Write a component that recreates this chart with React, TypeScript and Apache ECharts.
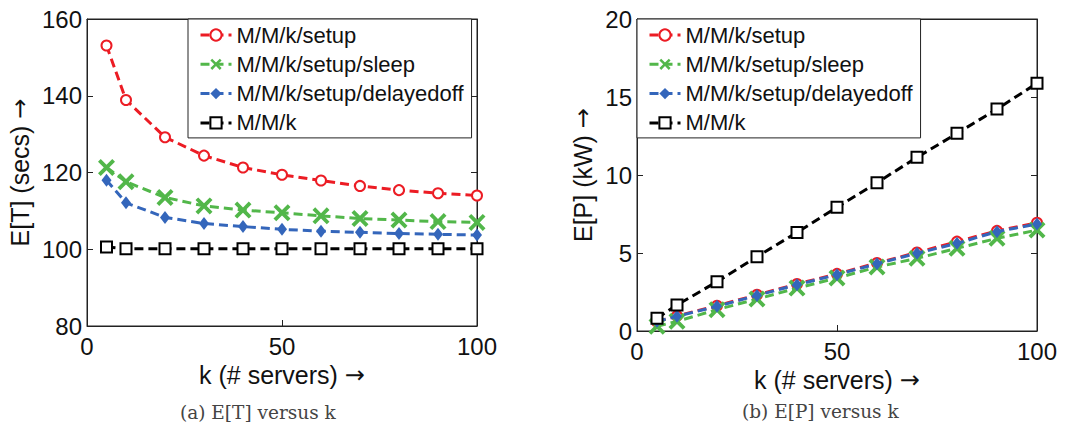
import React, { useEffect, useRef } from "react";
import * as echarts from "echarts";

const kServers = [5, 10, 20, 30, 40, 50, 60, 70, 80, 90, 100];
const seriesNames = ["M/M/k/setup", "M/M/k/setup/sleep", "M/M/k/setup/delayedoff", "M/M/k"];

const etSetup = [153.1, 138.9, 129.2, 124.4, 121.3, 119.4, 117.9, 116.5, 115.4, 114.6, 114.0];
const etSleep = [121.3, 117.6, 113.5, 111.3, 110.2, 109.5, 108.7, 108.0, 107.6, 107.2, 107.0];
const etDelayed = [118.0, 112.1, 108.3, 106.7, 105.9, 105.2, 104.7, 104.4, 104.1, 103.9, 103.7];
const etMMk = [100.6, 100.1, 100.1, 100.1, 100.1, 100.1, 100.1, 100.1, 100.1, 100.1, 100.1];

const epSetup = [0.6, 0.97, 1.62, 2.32, 3.01, 3.66, 4.36, 5.03, 5.73, 6.42, 6.94];
const epSleep = [0.3, 0.62, 1.37, 2.05, 2.75, 3.4, 4.1, 4.66, 5.3, 5.94, 6.47];
const epDelayed = [0.62, 0.94, 1.58, 2.28, 2.97, 3.61, 4.31, 4.98, 5.62, 6.37, 6.86];
const epMMk = [0.81, 1.67, 3.16, 4.76, 6.32, 7.93, 9.51, 11.13, 12.67, 14.23, 15.88];

const etTicks = { min: 80, max: 160, interval: 20 };
const epTicks = { min: 0, max: 20, interval: 5 };
const kTicks = { min: 0, max: 100, interval: 50 };

const COLORS = ["#ec1c24", "#52b74a", "#3466bb", "#000000"];
const X_PATH =
  "path://M0,1.6 L1.6,0 L5,3.4 L8.4,0 L10,1.6 L6.6,5 L10,8.4 L8.4,10 L5,6.6 L1.6,10 L0,8.4 L3.4,5 Z";

const FONT = "Liberation Sans";
const AXIS_COLOR = "#222";

function makeSeries(gridIdx: number, data: number[][]) {
  const symbols = ["emptyCircle", X_PATH, "diamond", "emptyRect"];
  const sizes: any[] = [10, 17, [10, 13], 11];
  return data.map((vals, i) => ({
    name: seriesNames[i],
    type: "line",
    xAxisIndex: gridIdx * 2,
    yAxisIndex: gridIdx * 2,
    data: kServers.map((k, j) => [k, vals[j]]),
    symbol: symbols[i],
    symbolSize: sizes[i],
    showAllSymbol: true,
    lineStyle: { color: COLORS[i], width: 3, type: [9, 5] },
    itemStyle: {
      color: COLORS[i],
      borderColor: COLORS[i],
      borderWidth: i === 0 || i === 3 ? 2.8 : 0,
    },
    z: 2 + i,
  }));
}

function valueAxis(gridIndex: number, ticks: any, position: string, isX: boolean, main: boolean, name?: string, nameGap?: number) {
  return {
    type: "value",
    gridIndex,
    position,
    min: ticks.min,
    max: ticks.max,
    interval: ticks.interval,
    axisLine: { show: true, onZero: false, lineStyle: { color: AXIS_COLOR, width: 1 } },
    axisTick: { show: true, inside: true, length: 6, lineStyle: { color: AXIS_COLOR } },
    axisLabel: {
      show: main,
      fontSize: 24,
      fontFamily: FONT,
      color: "#111",
      margin: isX ? 8 : 5,
    },
    splitLine: { show: false },
    name: main ? name : undefined,
    nameLocation: "middle",
    nameGap,
    nameTextStyle: {
      fontSize: 25,
      fontFamily: FONT,
      color: "#111",
      rich: { a: { fontFamily: "DejaVu Sans", fontSize: 24, color: "#111" } },
    },
  };
}

export default function App() {
  const ref = useRef<HTMLDivElement>(null);
  useEffect(() => {
    if (!ref.current) return;
    const chart = echarts.init(ref.current, undefined, { renderer: "svg" });
    const legendBase = {
      orient: "vertical",
      data: seriesNames,
      itemWidth: 31,
      itemHeight: 14,
      itemGap: 7.3,
      backgroundColor: "#fff",
      borderColor: "#222",
      borderWidth: 1,
      borderRadius: 0,
      lineStyle: { width: 3 },
      textStyle: { fontSize: 22, fontFamily: FONT, color: "#111", lineHeight: 22 },
      selectedMode: false,
    };
    chart.setOption({
      animation: false,
      grid: [
        { left: 87, top: 19, width: 390, height: 307, show: true, borderColor: AXIS_COLOR, borderWidth: 1, backgroundColor: "transparent" },
        { left: 637, top: 19, width: 400, height: 312, show: true, borderColor: AXIS_COLOR, borderWidth: 1, backgroundColor: "transparent" },
      ],
      xAxis: [
        valueAxis(0, kTicks, "bottom", true, true, "k (# servers) {a|\u2192}", 35),
        valueAxis(0, kTicks, "top", true, false),
        valueAxis(1, kTicks, "bottom", true, true, "k (# servers) {a|\u2192}", 34),
        valueAxis(1, kTicks, "top", true, false),
      ],
      yAxis: [
        valueAxis(0, etTicks, "left", false, true, "E[T] (secs) {a|\u2192}", 55),
        valueAxis(0, etTicks, "right", false, false),
        valueAxis(1, epTicks, "left", false, true, "E[P] (kW) {a|\u2192}", 42),
        valueAxis(1, epTicks, "right", false, false),
      ],
      legend: [
        { ...legendBase, left: 188, top: 19, padding: [5, 8, 4, 11] },
        { ...legendBase, left: 637, top: 19, padding: [5, 8, 4, 11] },
      ],
      series: [
        ...makeSeries(0, [etSetup, etSleep, etDelayed, etMMk]),
        ...makeSeries(1, [epSetup, epSleep, epDelayed, epMMk]),
      ],
      graphic: [
        {
          type: "text",
          left: 263 - 83,
          top: 403,
          style: { text: "(a) E[T] versus k", fontSize: 18.5, fontFamily: "DejaVu Serif", fill: "#444" },
        },
        {
          type: "text",
          left: 825 - 83,
          top: 402,
          style: { text: "(b) E[P] versus k", fontSize: 18.5, fontFamily: "DejaVu Serif", fill: "#444" },
        },
      ],
    });
    return () => chart.dispose();
  }, []);
  return <div ref={ref} style={{ position: "fixed", left: 0, top: 0, width: 1084, height: 425, background: "#fff" }} />;
}
